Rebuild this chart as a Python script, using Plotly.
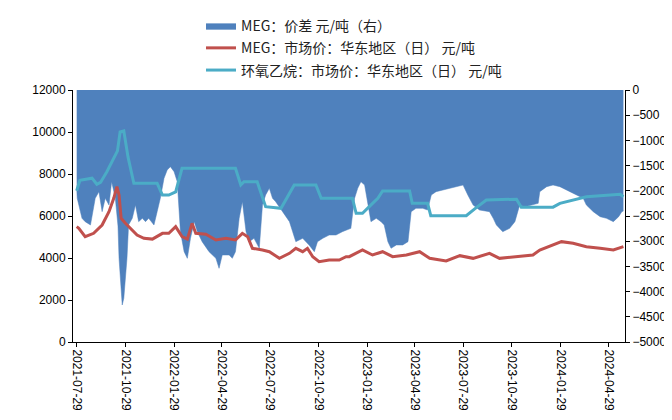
import plotly.graph_objects as go

# ---------------- data ----------------
spread_dates = ["2021-07-29","2021-07-30","2021-08-02","2021-08-08","2021-08-14","2021-08-24","2021-09-02","2021-09-09",
"2021-09-15","2021-09-21","2021-09-28","2021-10-03","2021-10-10","2021-10-15","2021-10-17","2021-10-20","2021-10-23",
"2021-10-26","2021-11-01","2021-11-04","2021-11-11","2021-11-17","2021-11-23","2021-11-30","2021-12-06","2021-12-12",
"2021-12-22","2021-12-28","2022-01-03","2022-01-10","2022-01-16","2022-01-22","2022-01-29","2022-02-04","2022-02-10",
"2022-02-17","2022-02-23","2022-03-01","2022-03-08","2022-03-14","2022-03-23","2022-04-05","2022-04-18","2022-04-24",
"2022-04-30","2022-05-13","2022-05-19","2022-05-25","2022-06-01","2022-06-07","2022-06-14","2022-06-20","2022-06-29",
"2022-07-09","2022-07-15","2022-07-21","2022-07-28","2022-08-03","2022-08-09","2022-08-22","2022-09-04","2022-09-10",
"2022-09-16","2022-09-29","2022-10-11","2022-10-21","2022-10-27","2022-11-06","2022-11-18","2022-12-01","2022-12-13",
"2022-12-29","2023-01-05","2023-01-11","2023-01-17","2023-01-24","2023-01-30","2023-02-05","2023-02-15","2023-02-24",
"2023-03-02","2023-03-09","2023-03-15","2023-03-25","2023-04-06","2023-04-16","2023-04-22","2023-05-01","2023-05-14",
"2023-05-23","2023-05-30","2023-06-08","2023-06-21","2023-07-04","2023-07-16","2023-07-29","2023-08-07","2023-08-17",
"2023-08-29","2023-09-17","2023-09-24","2023-09-30","2023-10-12","2023-10-25","2023-11-04","2023-11-13","2023-11-23",
"2023-12-08","2023-12-18","2023-12-21","2024-01-03","2024-01-15","2024-01-28","2024-02-16","2024-02-29","2024-03-12",
"2024-03-18","2024-03-31","2024-04-13","2024-04-25","2024-05-08","2024-05-18","2024-05-24","2024-05-27"]
spread_values = [-1951,-2150,-2282,-2546,-2612,-2678,-2149,-2017,
-2414,-2149,-2282,-1819,-2149,-2700,-3340,-3869,-4266,
-4133,-3340,-2678,-2546,-2282,-2612,-2546,-2612,-2546,
-2678,-2414,-2149,-1753,-1587,-1521,-1620,-1819,-2811,
-3208,-3340,-2943,-2612,-2811,-3009,-3208,-3340,-3538,
-3274,-3274,-3340,-3208,-2546,-2216,-2811,-3009,-2943,
-3141,-2282,-2083,-1951,-2149,-2216,-2414,-2612,-2811,
-3009,-2943,-3075,-3208,-3009,-2943,-2877,-2877,-2811,
-2745,-2149,-1951,-1819,-1885,-2216,-2612,-2546,-2612,
-2678,-3009,-3141,-3075,-3075,-3009,-2414,-2348,-2348,
-2381,-2083,-2017,-1984,-1951,-1918,-1885,-2083,-2282,
-2381,-2414,-2546,-2678,-2811,-2745,-2612,-2282,-2315,
-2282,-2249,-2017,-1918,-1885,-1918,-2017,-2083,-2149,
-2282,-2414,-2513,-2546,-2612,-2513,-2414,-2400]

meg_dates = ["2021-07-29","2021-08-02","2021-08-14","2021-08-30","2021-09-15","2021-09-28","2021-10-07","2021-10-13",
"2021-10-17","2021-10-21","2021-10-29","2021-11-08","2021-11-20","2021-12-03","2021-12-19","2022-01-07","2022-01-19",
"2022-02-01","2022-02-13","2022-02-23","2022-03-04","2022-03-11","2022-03-30","2022-04-18","2022-05-07","2022-05-25",
"2022-06-07","2022-06-17","2022-06-26","2022-07-15","2022-07-28","2022-08-16","2022-09-04","2022-09-16","2022-09-29",
"2022-10-08","2022-10-18","2022-10-30","2022-11-18","2022-12-07","2022-12-20","2022-12-26","2023-01-20","2023-02-08",
"2023-02-27","2023-03-18","2023-04-13","2023-05-08","2023-05-27","2023-06-27","2023-07-23","2023-08-17","2023-09-17",
"2023-10-06","2023-11-07","2023-12-08","2023-12-21","2024-01-15","2024-01-31","2024-02-22","2024-03-18","2024-04-13",
"2024-05-08","2024-05-27"]
meg_values = [5492,5413,5016,5175,5571,6206,6842,7397,
7000,5890,5651,5413,5095,4937,4900,5175,5175,
5492,5016,4900,5651,5175,5130,4857,4937,4857,
5175,5016,4460,4381,4300,3984,4222,4460,4300,
4460,4063,3825,3905,3905,4063,4063,4381,4143,
4300,4063,4143,4300,3984,3857,4111,3984,4222,
3984,4063,4143,4381,4619,4778,4700,4540,4460,
4381,4540]

eo_dates = ["2021-07-29","2021-08-04","2021-08-27","2021-09-05","2021-09-12","2021-09-24","2021-10-14","2021-10-19",
"2021-10-26","2021-11-03","2021-11-14","2021-12-28","2022-01-07","2022-01-19","2022-02-01","2022-02-13","2022-05-25",
"2022-06-04","2022-06-10","2022-07-05","2022-07-21","2022-08-19","2022-09-13","2022-10-24","2022-11-03","2023-01-01",
"2023-01-08","2023-01-20","2023-02-08","2023-02-18","2023-02-27","2023-04-19","2023-04-24","2023-05-23","2023-05-29",
"2023-08-04","2023-08-23","2023-09-11","2023-11-07","2023-11-16","2024-01-15","2024-01-28","2024-03-18","2024-05-21",
"2024-05-27"]
eo_values = [7200,7700,7800,7510,7600,8110,9100,10000,
10050,8800,7556,7556,7000,7000,7150,8270,8270,
7476,7635,7635,6444,6365,7476,7476,6841,6841,
6127,6127,6603,6841,7190,7190,6603,6603,6016,
6016,6400,6762,6800,6420,6420,6600,6920,7030,
6920]

tick_dates = ["2021-07-29","2021-10-29","2022-01-29","2022-04-29","2022-07-29","2022-10-29",
              "2023-01-29","2023-04-29","2023-07-29","2023-10-29","2024-01-29","2024-04-29"]

names = ["MEG：价差 元/吨（右）", "MEG：市场价：华东地区（日） 元/吨", "环氧乙烷：市场价：华东地区（日） 元/吨"]

BLUE = "#4F81BD"
RED = "#C0504D"
CYAN = "#4BACC6"

fig = go.Figure()
fig.add_trace(go.Scatter(x=spread_dates, y=spread_values, name=names[0], mode="lines",
                         fill="tozeroy", fillcolor=BLUE, line=dict(color=BLUE, width=0.5),
                         yaxis="y", legendgroup="a"))
fig.add_trace(go.Scatter(x=meg_dates, y=meg_values, name=names[1], mode="lines",
                         line=dict(color=RED, width=3), yaxis="y2", legendgroup="b"))
fig.add_trace(go.Scatter(x=eo_dates, y=eo_values, name=names[2], mode="lines",
                         line=dict(color=CYAN, width=3), yaxis="y2", legendgroup="c"))

tick_font = dict(family="Liberation Sans, Arial, sans-serif", size=12, color="black")

# page has an 8px body margin, so the figure is 8px smaller than the window
fig.update_layout(
    width=664, height=412,
    margin=dict(l=65, r=47, t=82, b=78, autoexpand=False),
    paper_bgcolor="white", plot_bgcolor="white",
    showlegend=True,
    legend=dict(xref="container", yref="container", x=0.2907, y=0.995,
                xanchor="left", yanchor="top", orientation="v",
                font=dict(family="Noto Sans CJK SC", size=14, color="#222"),
                traceorder="grouped", tracegroupgap=1, bgcolor="rgba(0,0,0,0)"),
    xaxis=dict(type="date", range=["2021-07-22", "2024-05-30"],
               tickvals=tick_dates, ticktext=tick_dates, tickangle=90,
               ticks="outside", ticklen=4, tickcolor="black",
               showline=True, linecolor="black", linewidth=1,
               showgrid=False, zeroline=False, tickfont=tick_font),
    yaxis=dict(range=[-5000, 0], dtick=500, side="right",
               ticks="outside", ticklen=4, tickcolor="black",
               showline=True, linecolor="black", linewidth=1,
               showgrid=False, zeroline=False, tickfont=tick_font,
               tickformat="d"),
    yaxis2=dict(range=[0, 12000], dtick=2000, side="left", overlaying="y",
                ticks="outside", ticklen=4, tickcolor="black",
                showline=True, linecolor="black", linewidth=1,
                showgrid=False, zeroline=False, tickfont=tick_font,
                tickformat="d"),
)

fig.write_html("out.html")
